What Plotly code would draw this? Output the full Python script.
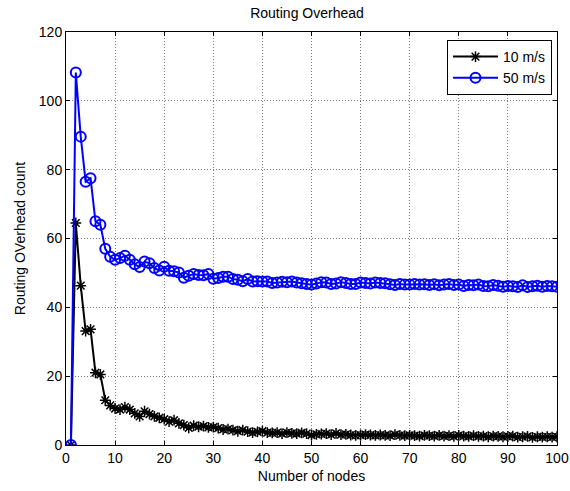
import plotly.graph_objects as go

nodes = list(range(1, 101))

speed10 = [0, 64.5, 46.3, 33.1, 33.6, 21.0, 20.5, 13.0, 11.5, 10.6,
           10.3, 11.0, 10.3, 9.2, 8.3, 9.8, 9.0, 8.3, 7.9, 7.5,
           6.8, 7.2, 6.3, 5.8, 5.0, 5.6, 5.3, 5.5, 5.1, 5.2,
           4.9, 4.5, 4.6, 4.3, 4.0, 4.3, 3.9, 3.6, 3.8, 4.0,
           3.6, 3.5, 3.6, 3.3, 3.6, 3.4, 3.3, 3.5, 3.3, 2.9,
           3.1, 3.2, 3.3, 3.0, 3.4, 3.0, 3.1, 2.9, 2.8, 2.9,
           3.0, 2.9, 2.8, 2.9, 2.8, 2.7, 3.0, 2.8, 2.7, 2.8,
           2.7, 2.6, 2.8, 2.7, 2.6, 2.8, 2.6, 2.7, 2.5, 2.8,
           2.6, 2.5, 2.7, 2.5, 2.6, 2.4, 2.6, 2.5, 2.4, 2.5,
           2.6, 2.3, 2.4, 2.5, 2.2, 2.4, 2.3, 2.4, 2.3, 2.4]

speed50 = [0, 108.2, 89.6, 76.5, 77.5, 65.0, 64.0, 57.0, 54.7, 53.8,
           54.3, 55.0, 53.8, 52.5, 51.7, 53.3, 52.8, 51.4, 50.7, 51.8,
           50.6, 50.5, 50.1, 48.6, 49.2, 49.7, 49.4, 49.3, 49.7, 48.3,
           48.5, 48.9, 48.9, 48.2, 48.0, 47.6, 48.2, 47.5, 47.6, 47.5,
           47.5, 47.1, 47.2, 47.4, 47.3, 47.5, 47.2, 47.0, 46.8, 46.6,
           46.9, 47.3, 47.2, 46.8, 46.9, 47.3, 47.1, 46.8, 46.8, 47.2,
           47.1, 46.9, 47.2, 47.1, 47.0, 46.7, 46.5, 46.8, 46.6, 46.6,
           46.8, 46.6, 46.7, 46.5, 46.7, 46.4, 46.6, 46.8, 46.5, 46.6,
           46.2, 46.5, 46.4, 46.6, 46.2, 46.1, 46.5, 46.3, 46.0, 46.2,
           46.1, 45.9, 46.4, 45.9, 46.1, 46.3, 46.0, 46.2, 46.1, 46.0]

x_ticks = [0, 10, 20, 30, 40, 50, 60, 70, 80, 90, 100]
y_ticks = [0, 20, 40, 60, 80, 100, 120]

font_family = "Liberation Sans, Arial, sans-serif"
txt = dict(size=14, color="black", family=font_family)

fig = go.Figure()
fig.add_trace(go.Scatter(
    x=nodes, y=speed10, name="10 m/s", mode="lines+markers",
    line=dict(color="black", width=2),
    marker=dict(symbol="asterisk-open", size=9, color="black",
                line=dict(color="black", width=1.5)),
))
fig.add_trace(go.Scatter(
    x=nodes, y=speed50, name="50 m/s", mode="lines+markers",
    line=dict(color="#0000ff", width=2),
    marker=dict(symbol="circle-open", size=10, color="#0000ff",
                line=dict(color="#0000ff", width=2)),
))

axis_common = dict(
    showline=True, linecolor="black", linewidth=1, mirror="ticks",
    ticks="inside", ticklen=4, tickcolor="black",
    showgrid=True, gridcolor="#7a7a7a", griddash="1px,2px", gridwidth=1,
    zeroline=False, tickfont=txt, automargin=False,
)

fig.update_xaxes(range=[0, 100], tickvals=x_ticks,
                 title=dict(text="Number of nodes", standoff=6, font=txt),
                 **axis_common)
fig.update_yaxes(range=[0, 120], tickvals=y_ticks,
                 title=dict(text="Routing OVerhead count", standoff=9, font=txt),
                 **axis_common)

fig.update_layout(
    width=570, height=491,
    margin=dict(l=66, r=13, t=32, b=46),
    paper_bgcolor="white", plot_bgcolor="white",
    font=txt,
    title=dict(text="Routing Overhead", x=307 / 570, xanchor="center",
               y=1 - 13 / 491, yanchor="middle",
               font=dict(size=14, color="black", family=font_family)),
    legend=dict(x=(552 - 66) / 491, y=(445 - 40) / 413, xanchor="right", yanchor="top",
                bordercolor="black", borderwidth=1, bgcolor="white",
                font=txt, itemwidth=45, tracegroupgap=2),
    showlegend=True,
)

fig.write_html("out.html", config={"displayModeBar": False},
               post_script="document.body.style.margin='0';")
